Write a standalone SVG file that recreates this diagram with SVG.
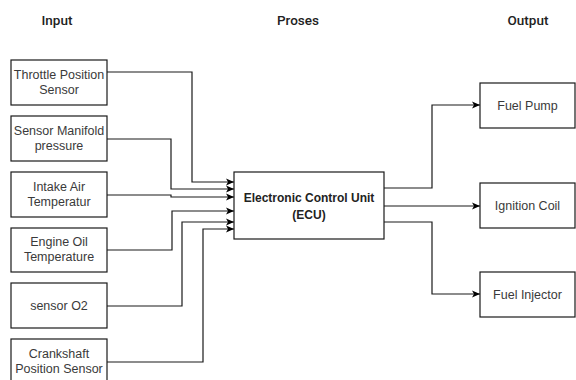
<svg xmlns="http://www.w3.org/2000/svg" width="576" height="380" viewBox="0 0 576 380">
  <style>
    .box { fill: #ffffff; stroke: #1a1a1a; stroke-width: 1.2; }
    .lbl { font-family: "Liberation Sans", Arial, sans-serif; font-size: 12.5px; fill: #3a3a3a; text-anchor: middle; }
    .ecu { font-family: "Liberation Sans", Arial, sans-serif; font-size: 12px; font-weight: bold; fill: #222; text-anchor: middle; }
    .title { font-family: Roboto, "Liberation Sans", sans-serif; font-size: 13.5px; font-weight: 500; fill: #222; text-anchor: middle; }
    .edge { fill: none; stroke: #1a1a1a; stroke-width: 1.2; marker-end: url(#arrow); }
  </style>
  <defs>
    <marker id="arrow" viewBox="0 0 8 8" refX="8" refY="4" markerWidth="8" markerHeight="8" markerUnits="userSpaceOnUse" orient="auto">
      <path d="M0,0.5 L8,4 L0,7.5 L2,4 Z" fill="#000"/>
    </marker>
  </defs>
  <rect width="576" height="380" fill="#ffffff"/>

  <g id="titles">
    <text class="title" x="57" y="25">Input</text>
    <text class="title" x="298" y="25">Proses</text>
    <text class="title" x="528" y="25">Output</text>
  </g>

  <g id="connectors">
    <path class="edge" d="M107,72 H192 V182 H234"/>
    <path class="edge" d="M107,139 H171 V189 H234"/>
    <path class="edge" d="M107,195 H171 V197 H234"/>
    <path class="edge" d="M107,250 H172 V211 H234"/>
    <path class="edge" d="M107,306 H182 V222 H234"/>
    <path class="edge" d="M107,362 H203 V229 H234"/>
    <path class="edge" d="M384,188 H432 V105 H480"/>
    <path class="edge" d="M384,206 H480"/>
    <path class="edge" d="M384,222 H432 V294 H480"/>
  </g>

  <g id="throttle">
    <rect class="box" x="11" y="60" width="96" height="45"/>
    <text class="lbl" x="59" y="78.5">Throttle Position</text>
    <text class="lbl" x="59" y="93.5">Sensor</text>
  </g>
  <g id="manifold">
    <rect class="box" x="11" y="116" width="96" height="45"/>
    <text class="lbl" x="59" y="134.5">Sensor Manifold</text>
    <text class="lbl" x="59" y="149.5">pressure</text>
  </g>
  <g id="intake">
    <rect class="box" x="11" y="172" width="96" height="45"/>
    <text class="lbl" x="59" y="190.5">Intake Air</text>
    <text class="lbl" x="59" y="205.5">Temperatur</text>
  </g>
  <g id="oil">
    <rect class="box" x="11" y="228" width="96" height="44"/>
    <text class="lbl" x="59" y="246">Engine Oil</text>
    <text class="lbl" x="59" y="261">Temperature</text>
  </g>
  <g id="o2">
    <rect class="box" x="11" y="283" width="96" height="45"/>
    <text class="lbl" x="59" y="310">sensor O2</text>
  </g>
  <g id="crankshaft">
    <rect class="box" x="11" y="339" width="96" height="45"/>
    <text class="lbl" x="59" y="357.5">Crankshaft</text>
    <text class="lbl" x="59" y="372.5">Position Sensor</text>
  </g>

  <g id="ecu">
    <rect class="box" x="234" y="172" width="150" height="67"/>
    <text class="ecu" x="309" y="202">Electronic Control Unit</text>
    <text class="ecu" x="309" y="219">(ECU)</text>
  </g>

  <g id="fuelpump">
    <rect class="box" x="480" y="83" width="95" height="45"/>
    <text class="lbl" x="527.5" y="110">Fuel Pump</text>
  </g>
  <g id="ignition">
    <rect class="box" x="480" y="183" width="95" height="45"/>
    <text class="lbl" x="527.5" y="210">Ignition Coil</text>
  </g>
  <g id="injector">
    <rect class="box" x="480" y="272" width="95" height="45"/>
    <text class="lbl" x="527.5" y="299">Fuel Injector</text>
  </g>
</svg>
